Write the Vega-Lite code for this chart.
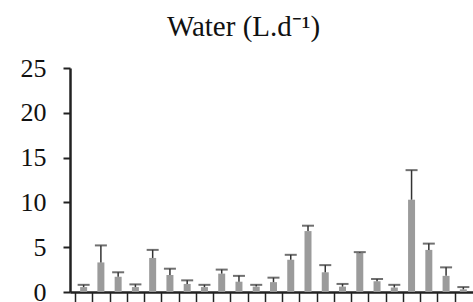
{
  "$schema": "https://vega.github.io/schema/vega-lite/v6.json",
  "autosize": "none",
  "width": 403,
  "height": 224,
  "padding": {"left": 70, "top": 68, "right": 0, "bottom": 10},
  "background": "white",
  "title": {
    "text": "Water (L.d⁻¹)",
    "font": "Liberation Serif",
    "fontSize": 29,
    "fontWeight": "normal",
    "color": "#111",
    "anchor": "middle",
    "dx": -28,
    "offset": 13
  },
  "config": {"view": {"stroke": null}},
  "data": {
    "values": [
      {"site": 1, "mean": 0.55, "upper": 0.8},
      {"site": 2, "mean": 3.3, "upper": 5.2},
      {"site": 3, "mean": 1.7, "upper": 2.2},
      {"site": 4, "mean": 0.55, "upper": 0.85},
      {"site": 5, "mean": 3.8, "upper": 4.7},
      {"site": 6, "mean": 1.9, "upper": 2.6},
      {"site": 7, "mean": 0.9, "upper": 1.3},
      {"site": 8, "mean": 0.55, "upper": 0.8},
      {"site": 9, "mean": 2.05, "upper": 2.5},
      {"site": 10, "mean": 1.15, "upper": 1.8},
      {"site": 11, "mean": 0.6, "upper": 0.8},
      {"site": 12, "mean": 1.1, "upper": 1.6},
      {"site": 13, "mean": 3.6, "upper": 4.15},
      {"site": 14, "mean": 6.8, "upper": 7.4},
      {"site": 15, "mean": 2.2, "upper": 3.0},
      {"site": 16, "mean": 0.6, "upper": 0.9},
      {"site": 17, "mean": 4.35, "upper": 4.45},
      {"site": 18, "mean": 1.2, "upper": 1.45},
      {"site": 19, "mean": 0.5, "upper": 0.8},
      {"site": 20, "mean": 10.3, "upper": 13.6},
      {"site": 21, "mean": 4.7, "upper": 5.4},
      {"site": 22, "mean": 1.8, "upper": 2.75},
      {"site": 23, "mean": 0.3, "upper": 0.55}
    ]
  },
  "encoding": {
    "x": {
      "field": "site",
      "type": "quantitative",
      "scale": {"domain": [0.5, 23.27], "nice": false, "zero": false},
      "axis": {
        "title": null,
        "labels": false,
        "grid": false,
        "values": [0.5, 1.5, 2.5, 3.5, 4.5, 5.5, 6.5, 7.5, 8.5, 9.5, 10.5, 11.5, 12.5, 13.5, 14.5, 15.5, 16.5, 17.5, 18.5, 19.5, 20.5, 21.5, 22.5],
        "tickSize": 10,
        "tickWidth": 1.5,
        "tickColor": "#222",
        "domainColor": "#222",
        "domainWidth": 2.5
      }
    }
  },
  "layer": [
    {
      "mark": {"type": "bar", "width": 7, "color": "#9b9b9b", "clip": true},
      "encoding": {
        "y": {
          "field": "mean",
          "type": "quantitative",
          "scale": {"domain": [0, 25], "nice": false},
          "axis": {
            "title": null,
            "grid": false,
            "values": [0, 5, 10, 15, 20, 25],
            "labelFont": "Liberation Serif",
            "labelFontSize": 26,
            "labelColor": "#111",
            "labelPadding": 17,
            "tickSize": 7,
            "tickWidth": 2,
            "tickColor": "#222",
            "domainColor": "#222",
            "domainWidth": 2.5
          }
        }
      }
    },
    {
      "mark": {"type": "rule", "color": "#333", "strokeWidth": 1.5, "clip": true},
      "encoding": {
        "y": {"field": "mean", "type": "quantitative"},
        "y2": {"field": "upper"}
      }
    },
    {
      "mark": {"type": "tick", "orient": "horizontal", "color": "#333", "size": 12, "thickness": 2, "clip": true},
      "encoding": {
        "y": {"field": "upper", "type": "quantitative"}
      }
    }
  ]
}
